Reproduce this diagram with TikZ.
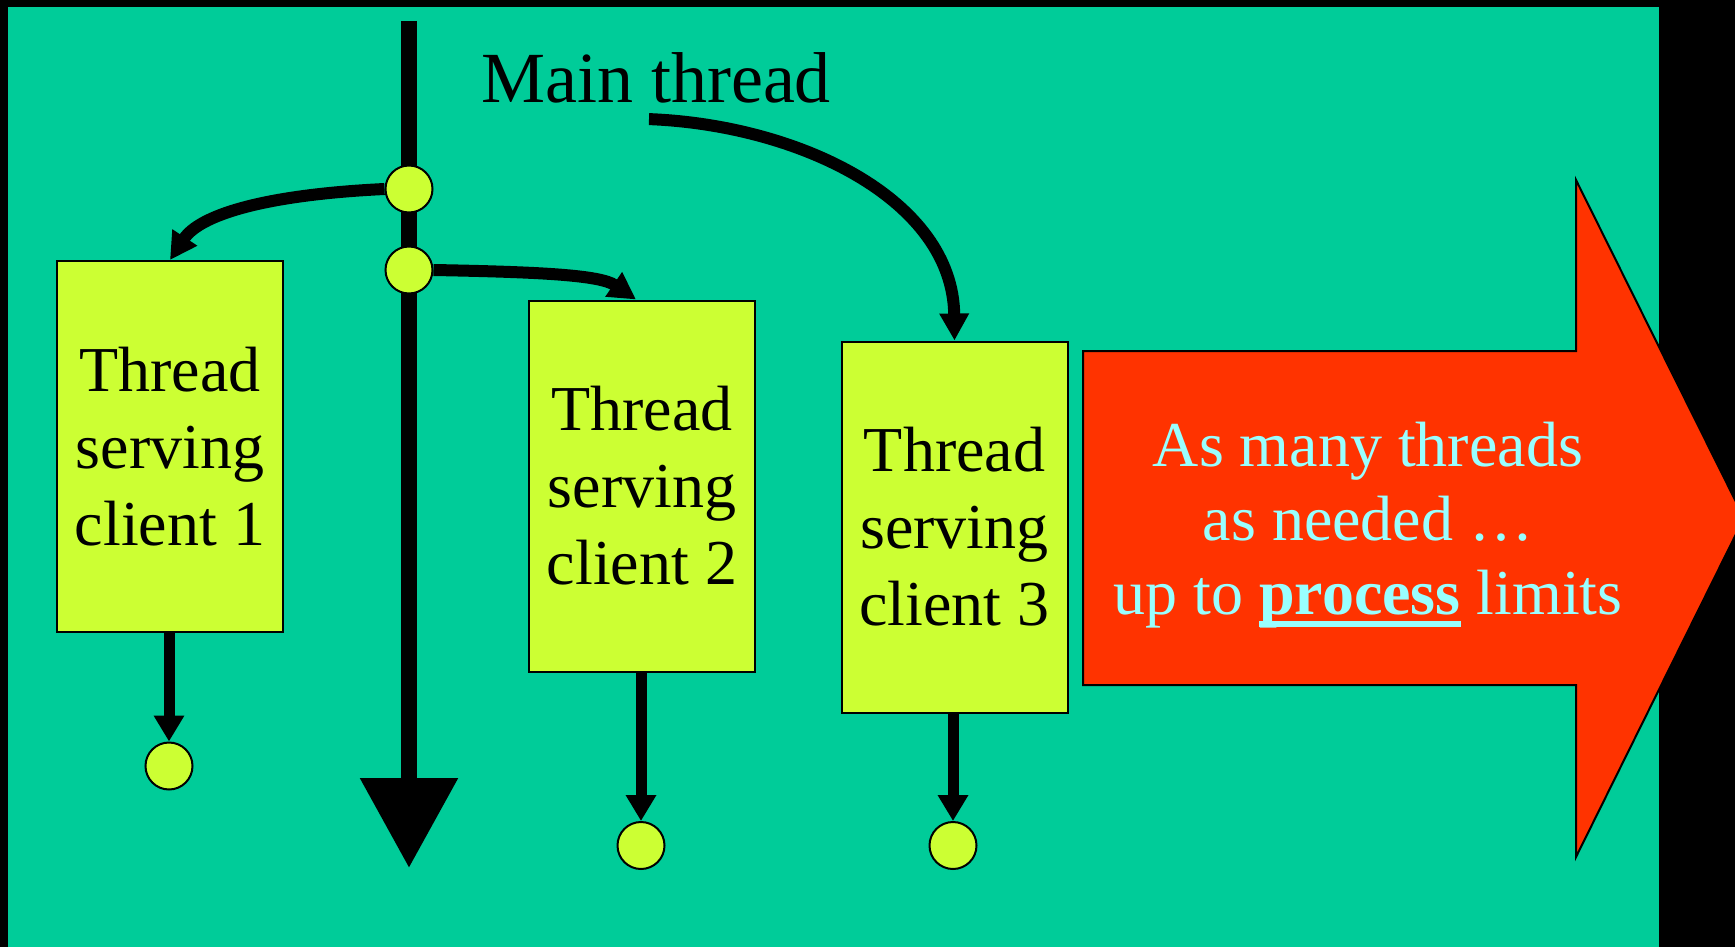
\documentclass[tikz,border=0pt]{standalone}
\usepackage{fontspec}
\setmainfont{Liberation Serif}
\usetikzlibrary{arrows.meta,positioning}

\definecolor{slidegreen}{RGB}{0,204,153}
\definecolor{boxyellow}{RGB}{204,255,51}
\definecolor{arrowred}{RGB}{255,51,0}
\definecolor{textcyan}{RGB}{153,255,255}

\newcommand{\thickul}[1]{\setbox0\hbox{#1}\rlap{\rule[-6.5pt]{\wd0}{3pt}}\box0\relax}

\begin{document}
\begin{tikzpicture}[x=0.5pt, y=-0.5pt,
					thread box/.style={draw, line width=1pt, fill=boxyellow, minimum width=113pt, minimum height=185.5pt, inner sep=0pt, align=center, font=\fontsize{32}{38.5}\selectfont},
					thread dot/.style={draw, line width=1pt, fill=boxyellow, circle, minimum size=23.5pt, inner sep=0pt},
					spawn arrow/.style={line width=6pt, -{Triangle[length=13.5pt,width=14pt]}},
					end arrow/.style={line width=5.5pt, -{Triangle[length=13pt,width=14.5pt]}},
				]
					\useasboundingbox (0,0) rectangle (1735,947);
					\clip (0,0) rectangle (1735,947);
					\fill[black] (0,0) rectangle (1735,947);
					\fill[slidegreen] (8,7) rectangle (1659,947);
					
					% main thread
					\coordinate (main top) at (409,21);
					\coordinate (main end) at (409,868);
					\draw[line width=8pt, -{Triangle[length=45pt,width=47pt]}] (main top) -- (main end);
					\node[anchor=base, inner sep=0pt, font=\fontsize{36}{43}\selectfont] (main) at (656,103) {Main thread};
					
					\node[thread dot] (fork a) at (409,189) {};
					\node[thread dot] (fork b) at (409,270) {};
					
					\node[thread box] (client a) at (170,446.5) {Thread\\serving\\client 1};
					\node[thread box] (client b) at (642,486) {Thread\\serving\\client 2};
					\node[thread box] (client c) at (954.5,527) {Thread\\serving\\client 3};
					
					\node[thread dot] (end a) at (169,766) {};
					\node[thread dot] (end b) at (641,845.5) {};
					\node[thread dot] (end c) at (953,845.5) {};
					
					\draw[spawn arrow] (fork a.west) .. controls (260,195) and (199,216) .. (client a.north);
					\draw[spawn arrow] (fork b.east) .. controls (540,272) and (600,275) .. ([xshift=-3pt]client b.north);
					\draw[spawn arrow] ([xshift=-3.5pt,yshift=-7.5pt]main.south) .. controls (800,125) and (953,200) .. (client c.north);
					
					\draw[end arrow] (end a |- client a.south) -- (end a);
					\draw[end arrow] (end b |- client b.south) -- (end b);
					\draw[end arrow] (end c |- client c.south) -- (end c);
					
					% many threads
					\draw[line width=1pt, fill=arrowred] (1083,351) -- (1576,351) -- (1576,180) -- (1744,518) -- (1576,857) -- (1576,685) -- (1083,685) -- cycle;
					\node[align=center, text=textcyan, font=\fontsize{32}{37}\selectfont] (many) at (1368,525) {As many threads\\as needed \dots\\up to \thickul{\textbf{process}} limits};
				\end{tikzpicture}
\end{document}
